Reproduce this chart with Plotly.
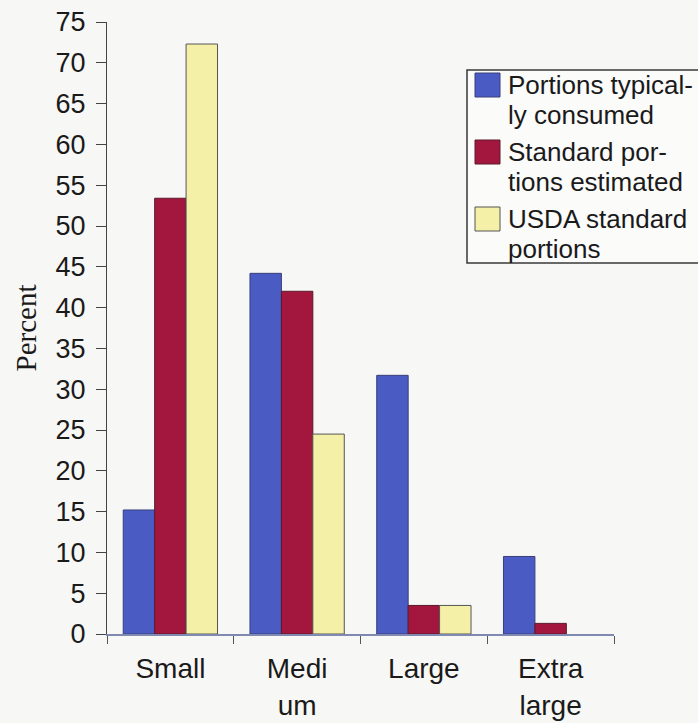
import plotly.graph_objects as go

# Portion-size categories and the share (%) falling in each one
categories = ["Small", "Medi<br>um", "Large", "Extra<br>large"]
typically_consumed = [15.2, 44.2, 31.7, 9.5]
standard_estimated = [53.4, 42.0, 3.5, 1.3]
usda_standard = [72.3, 24.5, 3.5, 0.0]

series_names = [
    "Portions typical-<br>ly consumed",
    "Standard por-<br>tions estimated",
    "USDA standard<br>portions",
]
series_values = [typically_consumed, standard_estimated, usda_standard]
series_colors = ["#4a5cc4", "#a3173f", "#f5f0a8"]
outline_colors = ["#3a3f7a", "#5a1a2a", "#555555"]

y_ticks = list(range(0, 80, 5))

W, H = 698, 723
ML, MR, MT, MB = 107, 84, 22, 89
PW, PH = W - ML - MR, H - MT - MB
SANS = "Liberation Sans, Arial"


def px_x(px):
    return (px - ML) / PW


def px_y(py):
    return (H - MB - py) / PH


fig = go.Figure()
for name, vals, col, oc in zip(series_names, series_values, series_colors, outline_colors):
    fig.add_trace(go.Bar(
        x=categories, y=vals, name=name,
        marker=dict(color=col,
                    line=dict(color=oc, width=[1 if v > 0 else 0 for v in vals])),
        showlegend=False,
    ))

# Legend box drawn by hand so swatches and wrapped labels sit like the print
shapes = [dict(type="rect", xref="paper", yref="paper",
               x0=px_x(467), x1=px_x(720), y0=px_y(263), y1=px_y(70),
               line=dict(color="#3a3a3a", width=1.5), fillcolor="#fbfbfa", layer="above")]
annotations = []
entry_tops = [73, 140, 207]
line_step = 30
for name, col, oc, top in zip(series_names, series_colors, outline_colors, entry_tops):
    shapes.append(dict(type="rect", xref="paper", yref="paper",
                       x0=px_x(475), x1=px_x(500), y0=px_y(top + 24), y1=px_y(top),
                       line=dict(color=oc, width=1), fillcolor=col, layer="above"))
    for i, part in enumerate(name.split("<br>")):
        annotations.append(dict(text=part, xref="paper", yref="paper",
                                x=px_x(506), y=px_y(top + 12 + i * line_step),
                                xanchor="left", yanchor="middle",
                                align="left", showarrow=False,
                                font=dict(family=SANS, size=26, color="#1a1a1a")))

fig.update_layout(
    width=W, height=H,
    margin=dict(l=ML, r=MR, t=MT, b=MB, autoexpand=False),
    paper_bgcolor="#f7f7f5", plot_bgcolor="#f7f7f5",
    barmode="group", bargap=0.256, bargroupgap=0,
    shapes=shapes, annotations=annotations,
    font=dict(family=SANS, color="#1a1a1a"),
)
fig.update_xaxes(
    type="category", showgrid=False, zeroline=False, automargin=False,
    showline=True, linecolor="#8089b0", linewidth=1.5,
    ticks="outside", tickson="boundaries", ticklen=8, tickcolor="#555555",
    ticklabelstandoff=9,
    tickfont=dict(size=28, family=SANS, color="#1a1a1a"),
)
fig.update_yaxes(
    range=[0, 75], tickvals=y_ticks, showgrid=False, zeroline=False, automargin=False,
    showline=True, linecolor="#444444", linewidth=1.2,
    ticks="outside", ticklen=10, tickcolor="#444444",
    ticklabelstandoff=5,
    tickfont=dict(size=27, family=SANS, color="#1a1a1a"),
    title=dict(text="Percent", standoff=10,
               font=dict(family="Liberation Serif, Times New Roman", size=29, color="#1a1a1a")),
)

fig.write_html("out.html")
